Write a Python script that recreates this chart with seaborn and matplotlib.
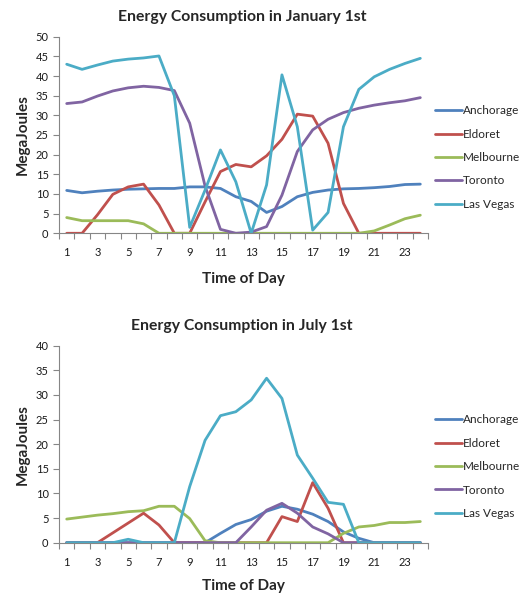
import numpy as np
import pandas as pd
import matplotlib
matplotlib.use("Agg")
import matplotlib.pyplot as plt
import seaborn as sns

hours = list(range(1, 25))
cities = ["Anchorage", "Eldoret", "Melbourne", "Toronto", "Las Vegas"]
colors = ["#4F81BD", "#C0504D", "#9BBB59", "#8064A2", "#4BACC6"]

# January 1st (MegaJoules per hour)
jan_anchorage = [10.9, 10.3, 10.7, 11.0, 11.2, 11.3, 11.4, 11.4, 11.8, 11.8, 11.4, 9.3,
                 8.1, 5.3, 6.8, 9.3, 10.4, 11.0, 11.3, 11.4, 11.6, 11.9, 12.4, 12.5]
jan_eldoret = [0, 0, 4.7, 9.9, 11.8, 12.5, 7.2, 0, 0, 8.0, 15.7, 17.5,
               16.9, 19.7, 23.9, 30.3, 29.8, 22.9, 7.6, 0, 0, 0, 0, 0]
jan_melbourne = [4.0, 3.2, 3.2, 3.2, 3.2, 2.4, 0, 0, 0, 0, 0, 0,
                 0, 0, 0, 0, 0, 0, 0, 0, 0.6, 2.1, 3.7, 4.6]
jan_toronto = [33.0, 33.4, 34.9, 36.2, 37.0, 37.4, 37.1, 36.3, 28.0, 12.0, 1.0, 0,
               0.3, 1.7, 9.7, 20.8, 26.3, 29.0, 30.7, 31.8, 32.6, 33.2, 33.7, 34.5]
jan_lasvegas = [43.0, 41.7, 42.8, 43.8, 44.3, 44.6, 45.1, 35.0, 1.5, 11.0, 21.2, 13.1,
                0, 12.3, 40.3, 27.1, 0.8, 5.3, 27.1, 36.6, 39.8, 41.7, 43.2, 44.5]

# July 1st (MegaJoules per hour)
jul_anchorage = [0, 0, 0, 0, 0, 0, 0, 0, 0, 0, 1.9, 3.7,
                 4.7, 6.4, 7.4, 6.8, 5.8, 4.3, 2.2, 0.9, 0, 0, 0, 0]
jul_eldoret = [0, 0, 0, 2.0, 4.0, 6.0, 3.6, 0, 0, 0, 0, 0,
               0, 0, 5.3, 4.3, 12.2, 7.0, 0, 0, 0, 0, 0, 0]
jul_melbourne = [4.8, 5.2, 5.6, 5.9, 6.3, 6.5, 7.4, 7.4, 4.9, 0.4, 0, 0,
                 0, 0, 0, 0, 0, 0, 1.9, 3.2, 3.5, 4.1, 4.1, 4.3]
jul_toronto = [0, 0, 0, 0, 0, 0, 0, 0, 0, 0, 0, 0,
               3.2, 6.6, 8.0, 6.0, 3.2, 1.8, 0, 0, 0, 0, 0, 0]
jul_lasvegas = [0, 0, 0, 0, 0.7, 0, 0, 0, 11.4, 20.8, 25.8, 26.6,
                29.0, 33.4, 29.3, 17.8, 13.1, 8.2, 7.8, 0, 0, 0, 0, 0]

x_ticks = list(range(1, 24, 2))


def to_long(series):
    frames = []
    for city, vals in zip(cities, series):
        frames.append(pd.DataFrame({"hour": hours, "value": vals, "city": city}))
    return pd.concat(frames, ignore_index=True)


sns.set_theme(style="white")
plt.rcParams["font.family"] = ["Lato", "DejaVu Sans"]

fig = plt.figure(figsize=(5.26, 5.96), dpi=100)
ax_top = fig.add_axes([0.1122, 0.6086, 0.7015, 0.3298])
ax_bot = fig.add_axes([0.1122, 0.0894, 0.7015, 0.3305])

panels = [
    (ax_top, [jan_anchorage, jan_eldoret, jan_melbourne, jan_toronto, jan_lasvegas],
     "Energy Consumption in January 1st", 50, 5, 0.385, 10),
    (ax_bot, [jul_anchorage, jul_eldoret, jul_melbourne, jul_toronto, jul_lasvegas],
     "Energy Consumption in July 1st", 40, 5, 0.386, 8),
]

axis_grey = "#868686"
for ax, series, title, ymax, ystep, leg_y, xpad in panels:
    df = to_long(series)
    sns.lineplot(data=df, x="hour", y="value", hue="city", hue_order=cities,
                 palette=colors, linewidth=2.0, ax=ax, legend=True)
    ax.set_xlim(0.5, 24.5)
    ax.set_ylim(0, ymax)
    ax.set_yticks(np.arange(0, ymax + 0.1, ystep))
    ax.set_xticks(x_ticks)
    ax.set_xticks(np.arange(0.5, 24.6, 1), minor=True)
    ax.tick_params(axis="x", which="major", length=0, labelsize=8, pad=10, colors="#1a1a1a")
    ax.tick_params(axis="x", which="minor", length=4, width=0.8, color=axis_grey, bottom=True)
    ax.tick_params(axis="y", which="major", length=4, width=0.8, color=axis_grey,
                   labelsize=8, left=True, labelcolor="#1a1a1a")
    for side in ("top", "right"):
        ax.spines[side].set_visible(False)
    for side in ("left", "bottom"):
        ax.spines[side].set_color(axis_grey)
        ax.spines[side].set_linewidth(0.8)
    ax.set_title(title, fontsize=11.3, fontweight="bold", pad=11, x=0.496)
    ax.set_xlabel("Time of Day", fontsize=11, fontweight="bold", labelpad=xpad)
    ax.set_ylabel("MegaJoules", fontsize=11, fontweight="bold", labelpad=4)
    handles, labels = ax.get_legend_handles_labels()
    ax.legend(handles, labels, loc="center left", bbox_to_anchor=(1.019, leg_y),
              frameon=False, fontsize=8.5, handlelength=2.3, labelspacing=1.05,
              handletextpad=0.1, borderpad=0, borderaxespad=0)

fig.savefig("out.png", dpi=100)
